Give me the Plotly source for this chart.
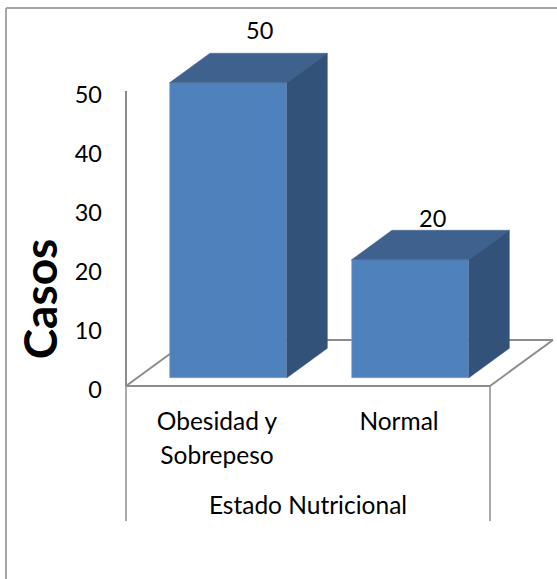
import plotly.graph_objects as go

# Chart data
categories = ["Obesidad y", "Normal"]
categories_second_line = ["Sobrepeso", ""]
casos = [50, 20]
y_ticks = [0, 10, 20, 30, 40, 50]

# Page and plot-area geometry, in pixels
PAGE_W, PAGE_H = 557, 579
PX_PER_CATEGORY = 182
PX_PER_CASE = 5.9
ORIGIN_X, ORIGIN_Y = 126, 386          # where category edge -0.5 meets value 0
PLOT_LEFT, PLOT_RIGHT = 59, 557
PLOT_TOP, PLOT_BOTTOM = 30, 568

X_RANGE = [-0.5 + (PLOT_LEFT - ORIGIN_X) / PX_PER_CATEGORY, -0.5 + (PLOT_RIGHT - ORIGIN_X) / PX_PER_CATEGORY]
Y_RANGE = [(ORIGIN_Y - PLOT_BOTTOM) / PX_PER_CASE, (ORIGIN_Y - PLOT_TOP) / PX_PER_CASE]

# Oblique projection of the floor depth, in axis units per unit of depth
DEPTH_X = 0.346
DEPTH_Y = 7.8
BAR_WIDTH = 0.645
BAR_NEAR = 0.178
BAR_FAR = 0.82

FRONT = "#4F81BD"
TOP = "#3E618D"
SIDE = "#32527A"
AXIS = "#8C8C8C"
FRAME = "#A6A6A6"
FONT = "Lato"
TEXT_SIZE = 24.5
NUMBER_SIZE = 23.5


def project(cat, value, depth):
    return cat + depth * DEPTH_X, value + depth * DEPTH_Y


def polygon(points, color, name):
    xs, ys = zip(*[project(*p) for p in points])
    return go.Scatter(
        x=list(xs) + [xs[0]], y=list(ys) + [ys[0]], mode="lines", fill="toself",
        fillcolor=color, line=dict(color=color, width=0.5), hoverinfo="skip",
        showlegend=False, name=name,
    )


def data_line(a, b, color, width):
    return dict(type="line", xref="x", yref="y", layer="below",
                x0=a[0], y0=a[1], x1=b[0], y1=b[1], line=dict(color=color, width=width))


def paper_line(a, b, color, width):
    return dict(type="line", xref="paper", yref="paper", layer="below",
                x0=a[0], y0=a[1], x1=b[0], y1=b[1], line=dict(color=color, width=width))


fig = go.Figure()

# Front faces of the columns
near_x, near_y = project(0, 0, BAR_NEAR)
fig.add_trace(go.Bar(
    x=[i + near_x for i in range(len(casos))], y=casos, base=near_y,
    width=BAR_WIDTH, marker=dict(color=FRONT, line=dict(color="#7FA3D0", width=0.6)),
    showlegend=False,
))

# Top and side faces of the columns
for i, v in enumerate(casos):
    left, right = i - BAR_WIDTH / 2, i + BAR_WIDTH / 2
    fig.add_trace(polygon([(left, v, BAR_NEAR), (right, v, BAR_NEAR), (right, v, BAR_FAR), (left, v, BAR_FAR)], TOP, "top"))
    fig.add_trace(polygon([(right, 0, BAR_NEAR), (right, v, BAR_NEAR), (right, v, BAR_FAR), (right, 0, BAR_FAR)], SIDE, "side"))

# Value labels sit above each column, nudged in pixels
label_shift = [(42, 61), (33, 50)]
annotations = [
    dict(x=i, y=v, xref="x", yref="y", text=str(v), showarrow=False,
         xshift=label_shift[i][0], yshift=label_shift[i][1],
         font=dict(family=FONT, size=NUMBER_SIZE, color="black"))
    for i, v in enumerate(casos)
]

# Floor outline, value axis line and the drop lines framing the category labels
floor = [project(c, 0, d) for c, d in [(-0.5, 0), (-0.5, 1), (1.5, 1), (1.5, 0)]]
shapes = [data_line(floor[k], floor[k + 1], AXIS, 2) for k in range(3)]
shapes.append(data_line((-0.5, 0), (1.5, 0), AXIS, 2))
shapes.append(data_line((-0.5, 0), (-0.5, 50), AXIS, 2))
for edge in (-0.5, 1.5):
    shapes.append(data_line((edge, 0), (edge, -22.9), AXIS, 1.5))

# Chart area frame: left and top edges reach the page
top = 1 - 8 / PAGE_H
left_edge = 6 / PAGE_W
shapes.append(paper_line((left_edge, 0), (left_edge, top), FRAME, 2))
shapes.append(paper_line((left_edge, top), (1, top), FRAME, 2))

fig.update_layout(
    width=PAGE_W, height=PAGE_H, autosize=False,
    margin=dict(l=0, r=0, t=0, b=0, autoexpand=False),
    paper_bgcolor="white", plot_bgcolor="rgba(0,0,0,0)",
    bargap=0, showlegend=False,
    font=dict(family=FONT, size=TEXT_SIZE, color="black"),
    annotations=annotations,
    shapes=shapes,
    xaxis=dict(
        domain=[PLOT_LEFT / PAGE_W, PLOT_RIGHT / PAGE_W], range=X_RANGE,
        anchor="free", position=1 - ORIGIN_Y / PAGE_H,
        tickvals=[0, 1],
        ticktext=[
            f'<span style="font-size:{TEXT_SIZE}px">{a}</span><br><span style="font-size:{TEXT_SIZE}px">{b}</span>'
            for a, b in zip(categories, categories_second_line)
        ],
        tickfont=dict(family=FONT, size=26), ticks="", ticklabelstandoff=17,
        showgrid=False, zeroline=False, showline=False,
        title=dict(text="Estado Nutricional", standoff=29, font=dict(family=FONT, size=TEXT_SIZE)),
    ),
    yaxis=dict(
        domain=[1 - PLOT_BOTTOM / PAGE_H, 1 - PLOT_TOP / PAGE_H], range=Y_RANGE,
        anchor="free", position=ORIGIN_X / PAGE_W,
        tickvals=y_ticks, ticks="", ticklabelstandoff=24, ticklabelshift=4,
        showgrid=False, zeroline=False, showline=False,
        tickfont=dict(family=FONT, size=NUMBER_SIZE),
        title=dict(text="<b>Casos</b>", standoff=1, font=dict(family=FONT, size=46)),
    ),
)

fig.write_html("out.html")
